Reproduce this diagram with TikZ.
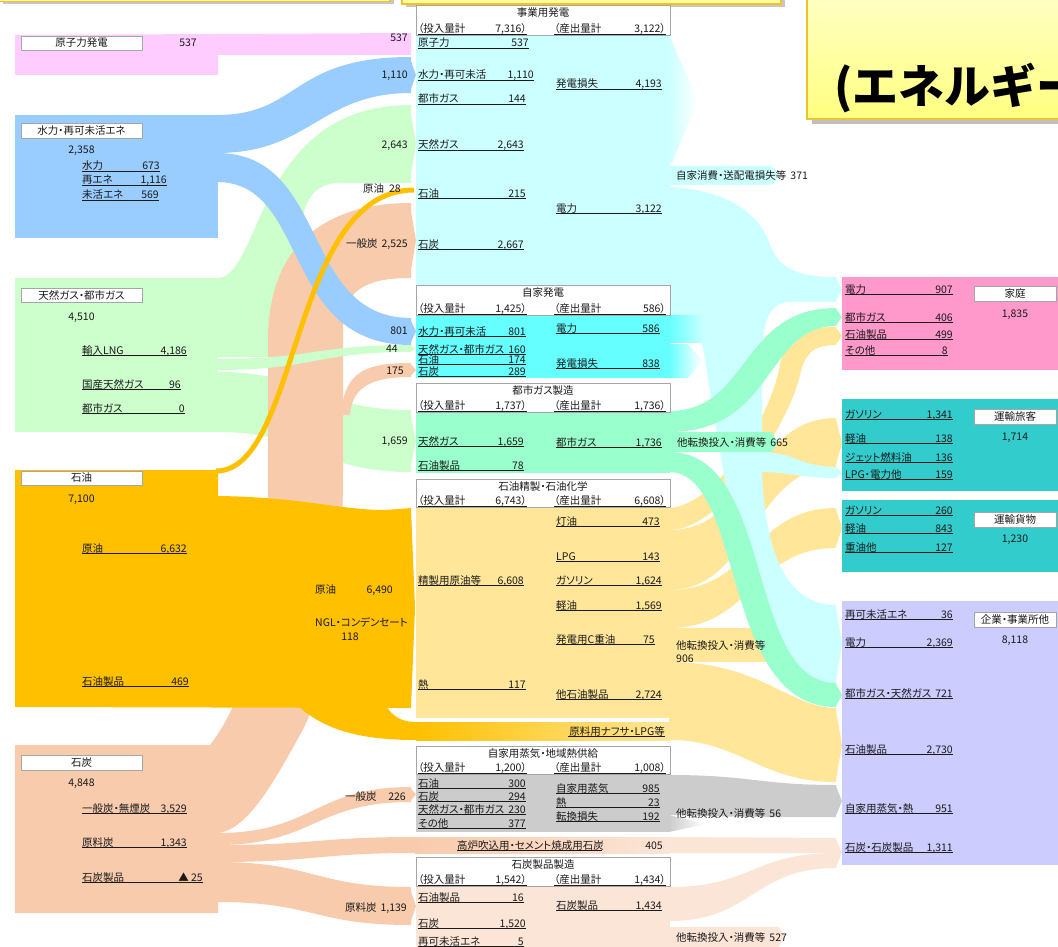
\documentclass[tikz,border=0pt]{standalone}
\usepackage{fontspec}
\setmainfont{Noto Sans CJK JP}[RawFeature=+palt]
\newfontfamily\titlefont{Noto Sans CJK JP}
\definecolor{cPink}{HTML}{FFCCFF}
\definecolor{cBlue}{HTML}{99CCFF}
\definecolor{cGreen}{HTML}{CCFFCC}
\definecolor{cOil}{HTML}{FFC000}
\definecolor{cCoal}{HTML}{F8CBAD}
\definecolor{cCyan}{HTML}{CCFFFF}
\definecolor{cAqua}{HTML}{66FFFF}
\definecolor{cMint}{HTML}{99FFCC}
\definecolor{cLOil}{HTML}{FFE699}
\definecolor{cGray}{HTML}{CCCCCC}
\definecolor{cPeach}{HTML}{FBE5D6}
\definecolor{cHome}{HTML}{FF99CC}
\definecolor{cTeal}{HTML}{33CCCC}
\definecolor{cBiz}{HTML}{CCCCFF}
\definecolor{cTxt}{HTML}{1A1A1A}
\definecolor{cBorder}{HTML}{A6A6A6}
\definecolor{cYel}{HTML}{FFFF99}
\definecolor{cYelL}{HTML}{FFFFCC}
\definecolor{cYelD}{HTML}{FFFF80}
\definecolor{cYelB}{HTML}{F2C12E}
\tikzset{
  txt/.style={inner sep=0pt, font=\fontsize{10.5}{12}\selectfont, text=cTxt},
  ul/.style={draw=cTxt, line width=0.8pt},
  lbox/.style={draw=cBorder, fill=white, line width=0.7pt},
  ybord/.style={draw=cYelB, line width=1.5pt},
}
\newcommand\band[7]{\fill[#1] (#2,#3) .. controls ({(#2+#5)/2},#3) and ({(#2+#5)/2},#6) .. (#5,#6) -- (#5,#7) .. controls ({(#2+#5)/2},#7) and ({(#2+#5)/2},#4) .. (#2,#4) -- cycle;}
\newcommand\tip[4]{\fill[#1] ({#2-0.5},#3) -- ({#2+6},{(#3+#4)/2}) -- ({#2-0.5},#4) -- cycle;}
\newcommand\itm[5]{\node[txt,anchor=base west] at (#1,{#3+4}) {#4};\node[txt,anchor=base east] at (#2,{#3+4}) {#5};\draw[ul] (#1,{#3+5.5}) -- (#2,{#3+5.5});}
\newcommand\tR[3]{\node[txt,anchor=base east] at (#1,{#2+4}) {#3};}
\newcommand\tL[3]{\node[txt,anchor=base west] at (#1,{#2+4}) {#3};}
\newcommand\tC[3]{\node[txt,anchor=base] at (#1,{#2+4}) {#3};}
\newcommand\hdr[5]{\draw[lbox] (416,#1) rectangle (670,#2);
  \node[txt,anchor=base] at (543,{#1+11.5}) {#3};
  \node[txt,anchor=base west] at (418,{#2-2.5}) {（投入量計};
  \node[txt,anchor=base east] at (527,{#2-2.5}) {#4）};
  \draw[ul] (418,{#2-1}) -- (527,{#2-1});
  \node[txt,anchor=base west] at (554,{#2-2.5}) {（産出量計};
  \node[txt,anchor=base east] at (666,{#2-2.5}) {#5）};
  \draw[ul] (554,{#2-1}) -- (666,{#2-1});}
\newcommand\dstbox[2]{\draw[lbox] (974,#1) rectangle (1056,{#1+15}); \node[txt] at (1015,{#1+7.5}) {#2};}
\begin{document}
\begin{tikzpicture}[x=1pt,y=-1pt]
\useasboundingbox (0,0) rectangle (1058,947);
\clip (0,0) rectangle (1058,947);

% ---------- top yellow boxes ----------
\fill[black!22] (3,-20) rectangle (394,4.5);
\draw[ybord,fill=cYel] (-5,-20) rectangle (390,1.5);
\fill[black!22] (406,-20) rectangle (785,7.5);
\draw[ybord,fill=cYel] (402,-20) rectangle (781,4);
\fill[black!25] (812,-20) rectangle (1070,124);
\shadedraw[top color=cYelL,bottom color=cYelD,draw=cYelB,line width=1.5pt] (807,-20) rectangle (1070,119);
\node[font=\titlefont\bfseries\fontsize{46}{50}\selectfont,anchor=base west,inner sep=0pt] (title) at (834,104) {(エネルギー};

% ---------- right side: oil product bands (behind) ----------
\fill[cLOil] (669,508) .. controls (715,506) and (770,420) .. (780,365) .. controls (785,335) and (800,327) .. (836,327) -- (836,345) .. controls (815,345) and (805,352) .. (800,375) .. controls (790,420) and (725,530) .. (669,530) -- cycle;
\tip{cLOil}{836}{327}{345}
\band{cLOil}{669}{530}{590}{836}{418}{467}
\tip{cLOil}{836}{418}{467}
\band{cLOil}{669}{590}{628}{836}{508}{548}
\tip{cLOil}{836}{508}{548}
\fill[cLOil] (669,628) rectangle (772,662);
\tip{cLOil}{772}{628}{662}
\fill[cLOil] (669,662) .. controls (760,662) and (790,708) .. (836,708) -- (836,782) .. controls (760,782) and (740,740) .. (669,740) -- cycle;
\tip{cLOil}{836}{708}{782}

% ---------- cyan electricity ----------
\fill[cCyan] (669,187) .. controls (730,190) and (760,215) .. (770,245) .. controls (780,270) and (800,277) .. (836,277) -- (836,302) -- (790,302) .. controls (770,302) and (762,320) .. (762,360) -- (762,470) .. controls (765,560) and (790,605) .. (836,605) -- (836,683) .. controls (785,683) and (748,640) .. (738,560) -- (708,380) .. controls (702,330) and (695,318) .. (669,318) -- cycle;
\tip{cCyan}{836}{277}{302}
\tip{cCyan}{836}{605}{683}
\fill[cCyan] (760,452) .. controls (795,452) and (800,467) .. (836,467) -- (836,478) .. controls (800,478) and (790,472) .. (760,472) -- cycle;
\tip{cCyan}{836}{467}{478}
\shade[left color=cCyan,right color=white] (669,35) -- (698,100) -- (672,163) -- (669,163) -- cycle;
\fill[cCyan,rounded corners=8pt] (660,166) rectangle (777,185);
\shade[left color=cAqua,right color=cCyan] (669,315) rectangle (704,342);
\shade[left color=cAqua,right color=white] (669,344) -- (688,344) -- (702,361) -- (688,378) -- (669,378) -- cycle;

% ---------- mint city gas ----------
\fill[cMint] (669,411) .. controls (750,411) and (740,308) .. (836,308) -- (836,326) .. controls (765,326) and (775,432) .. (669,432) -- cycle;
\tip{cMint}{836}{308}{326}
\fill[cMint] (669,432) rectangle (772,452);
\tip{cMint}{772}{432}{452}
\fill[cMint] (669,452) .. controls (775,452) and (745,683) .. (836,683) -- (836,707) .. controls (720,707) and (745,472) .. (669,472) -- cycle;
\tip{cMint}{836}{683}{707}

% ---------- gray steam, peach coal ----------
\fill[cGray] (669,775) .. controls (750,775) and (760,785) .. (836,785) -- (836,817) -- (760,817) .. controls (720,817) and (700,815) .. (669,815) -- cycle;
\tip{cGray}{836}{785}{817}
\shade[left color=cGray,right color=white] (669,815) -- (706,824) -- (669,832) -- cycle;
\band{cPeach}{669}{837}{853}{836}{838}{853}
\band{cPeach}{669}{887}{921}{836}{853}{868}
\tip{cPeach}{836}{838}{868}
\fill[cPeach] (669,927) rectangle (779,947);
\tip{cPeach}{779}{927}{947}

% ---------- left sources ----------
\fill[cPink] (15,35) -- (411,33) -- (411,55) -- (218,55) -- (218,75) -- (15,75) -- cycle;
\fill[cBlue] (15,115) rectangle (218,238);
\fill[cBlue] (217,115) .. controls (300,115) and (290,57) .. (411,57) -- (411,93) .. controls (320,93) and (310,153) .. (217,153) -- cycle;
\tip{cBlue}{410}{57}{93}
\fill[cGreen] (15,278) rectangle (218,432);
\fill[cGreen] (217,278) .. controls (262,278) and (255,105) .. (411,105) -- (411,183) -- (340,183) .. controls (305,183) and (300,215) .. (300,250) -- (300,357) -- (217,357) -- cycle;
\tip{cGreen}{410}{105}{183}
\band{cGreen}{217}{372}{432}{411}{410}{472}
\tip{cGreen}{410}{410}{472}
% coal main
\fill[cCoal] (15,745) -- (210,745) .. controls (245,700) and (268,620) .. (268,500) -- (268,340) .. controls (268,250) and (320,203) .. (411,203) -- (411,278) .. controls (365,278) and (343,290) .. (343,330) -- (343,470) .. controls (343,620) and (320,700) .. (300,735) .. controls (280,770) and (250,830) .. (218,833) -- (218,913) -- (15,913) -- cycle;
\tip{cCoal}{410}{203}{278}
\band{cGreen}{217}{359}{370}{411}{345}{352}
\tip{cGreen}{410}{345}{352}
\fill[cCoal] (343,400) .. controls (350,370) and (370,363) .. (411,363) -- (411,377) .. controls (375,377) and (352,385) .. (350,415) -- (343,415) -- cycle;
\tip{cCoal}{410}{363}{377}
\fill[cBlue] (217,153) .. controls (330,153) and (300,318) .. (411,318) -- (411,345) .. controls (280,345) and (310,182) .. (217,182) -- cycle;
\tip{cBlue}{410}{318}{345}
% oil
\fill[cOil] (15,470) -- (218,470) -- (218,496) .. controls (300,497) and (340,510) .. (385,510) -- (411,508) -- (415,608) -- (411,708) -- (15,707) -- cycle;
\fill[cOil] (298,706) .. controls (325,730) and (360,740) .. (416,740) -- (416,722) .. controls (400,722) and (392,715) .. (386,706) -- cycle;
\draw[cOil,line width=5pt] (216,471) .. controls (300,471) and (290,190) .. (414,190);
% coal branches
\band{cCoal}{217}{833}{845}{411}{787}{802}
\tip{cCoal}{410}{787}{802}
\band{cCoal}{217}{845}{862}{416}{837}{853}
\band{cCoal}{217}{862}{902}{411}{887}{925}
\tip{cCoal}{410}{887}{925}

% ---------- middle boxes ----------
\fill[cCyan] (416,35) rectangle (670,285);
\hdr{5}{35}{事業用発電}{7,316}{3,122}
\fill[cAqua] (416,315) rectangle (670,378);
\hdr{285}{315}{自家発電}{1,425}{586}
\fill[cMint] (416,412) rectangle (670,473);
\hdr{383}{412}{都市ガス製造}{1,737}{1,736}
\fill[cLOil] (416,507) rectangle (670,718);
\hdr{479}{507}{石油精製・石油化学}{6,743}{6,608}
\shade[left color=cOil,right color=cLOil] (416,722) rectangle (670,740);
\fill[cGray] (416,774) rectangle (670,832);
\hdr{746}{774}{自家用蒸気・地域熱供給}{1,200}{1,008}
\shade[left color=cCoal,right color=cPeach] (415,837) rectangle (670,853);
\fill[cPeach] (416,886) rectangle (670,947);
\hdr{857}{886}{石炭製品製造}{1,542}{1,434}

% ---------- right boxes ----------
\fill[cHome] (842,277) rectangle (1058,370);
\fill[cTeal] (842,399) rectangle (1058,491);
\fill[cTeal] (842,500) rectangle (1058,572);
\fill[cBiz] (842,601) rectangle (1058,865);
\dstbox{286}{家庭}
\tC{1015}{313}{1,835}
\dstbox{409}{運輸旅客}
\tC{1015}{436}{1,714}
\dstbox{512}{運輸貨物}
\tC{1015}{538}{1,230}
\dstbox{612}{企業・事業所他}
\tC{1015}{639}{8,118}

% ---------- left labels ----------
\draw[lbox] (21,36) rectangle (142,50); \node[txt] (nuc) at (81.5,43) {原子力発電};
\tC{188}{43}{537}
\draw[lbox] (21,123) rectangle (142,138); \node[txt] (hyd) at (81.5,130.5) {水力・再可未活エネ};
\tC{81.5}{150}{2,358}
\itm{82}{160}{166}{水力}{673}
\itm{82}{167}{180}{再エネ}{1,116}
\itm{82}{159}{195}{未活エネ}{569}
\draw[lbox] (21,288) rectangle (142,302); \node[txt] (gas) at (81.5,295) {天然ガス・都市ガス};
\tC{81.5}{316}{4,510}
\itm{82}{187}{350}{輸入LNG}{4,186}
\itm{82}{181}{384}{国産天然ガス}{96}
\itm{82}{185}{408}{都市ガス}{0}
\draw[lbox] (21,471) rectangle (142,485); \node[txt] (oil) at (81.5,478) {石油};
\tC{81.5}{498}{7,100}
\itm{82}{187}{548}{原油}{6,632}
\itm{82}{189}{681}{石油製品}{469}
\draw[lbox] (21,755) rectangle (142,770); \node[txt] (coal) at (81.5,762.5) {石炭};
\tC{81.5}{782}{4,848}
\itm{82}{187}{808}{一般炭・無煙炭}{3,529}
\itm{82}{187}{842}{原料炭}{1,343}
\itm{82}{203}{877}{石炭製品}{▲ 25}

% ---------- flow labels (left) ----------
\tR{408}{38}{537}
\tR{408}{75}{1,110}
\tR{408}{145}{2,643}
\tR{401}{189}{原油\hspace{5pt}28}
\tR{408}{243}{一般炭\hspace{4pt}2,525}
\tR{408}{330}{801}
\tR{398}{348}{44}
\tR{404}{370}{175}
\tR{408}{440}{1,659}
\tL{315}{589}{原油}
\tR{393}{589}{6,490}
\tL{315}{622}{NGL・コンデンセート}
\tC{350}{636}{118}
\tL{345}{796}{一般炭}
\tR{406}{796}{226}
\tL{345}{907}{原料炭}
\tR{407}{907}{1,139}

% ---------- middle items ----------
\itm{418}{529}{43}{原子力}{537}
\itm{418}{534}{75}{水力・再可未活}{1,110}
\itm{418}{526}{99}{都市ガス}{144}
\itm{418}{524}{145}{天然ガス}{2,643}
\itm{418}{526}{193}{石油}{215}
\itm{418}{524}{244}{石炭}{2,667}
\itm{556}{662}{84}{発電損失}{4,193}
\itm{556}{662}{208}{電力}{3,122}
\itm{418}{526}{331}{水力・再可未活}{801}
\itm{418}{526}{349}{天然ガス・都市ガス}{160}
\itm{418}{526}{359}{石油}{174}
\itm{418}{526}{371}{石炭}{289}
\itm{556}{660}{328}{電力}{586}
\itm{556}{660}{363}{発電損失}{838}
\itm{418}{524}{441}{天然ガス}{1,659}
\itm{418}{524}{465}{石油製品}{78}
\itm{556}{662}{442}{都市ガス}{1,736}
\itm{418}{524}{580}{精製用原油等}{6,608}
\itm{418}{526}{684}{熱}{117}
\itm{556}{660}{521}{灯油}{473}
\itm{556}{660}{556}{LPG}{143}
\itm{556}{662}{580}{ガソリン}{1,624}
\itm{556}{662}{605}{軽油}{1,569}
\itm{556}{655}{639}{発電用C重油}{75}
\itm{556}{662}{694}{他石油製品}{2,724}
\tR{665}{731}{原料用ナフサ・LPG等}
\draw[ul] (568,736.5) -- (665,736.5);
\itm{418}{526}{783}{石油}{300}
\itm{418}{526}{796}{石炭}{294}
\itm{418}{526}{809}{天然ガス・都市ガス}{230}
\itm{418}{526}{823}{その他}{377}
\itm{556}{660}{788}{自家用蒸気}{985}
\itm{556}{660}{802}{熱}{23}
\itm{556}{660}{816}{転換損失}{192}
\tL{457}{845}{高炉吹込用・セメント焼成用石炭}
\draw[ul] (457,850.5) -- (602,850.5);
\tR{663}{845}{405}
\itm{418}{524}{897}{石油製品}{16}
\itm{418}{526}{923}{石炭}{1,520}
\itm{418}{524}{941}{再可未活エネ}{5}
\itm{556}{662}{905}{石炭製品}{1,434}

% ---------- right flow labels ----------
\tL{676}{175}{自家消費・送配電損失等\hspace{4pt}371}
\tL{677}{442}{他転換投入・消費等\hspace{4pt}665}
\tL{676}{645}{他転換投入・消費等}
\tL{676}{658}{906}
\tL{676}{813}{他転換投入・消費等\hspace{4pt}56}
\tL{676}{937}{他転換投入・消費等\hspace{4pt}527}

% ---------- right items ----------
\itm{845}{953}{289}{電力}{907}
\itm{845}{953}{317}{都市ガス}{406}
\itm{845}{953}{334}{石油製品}{499}
\itm{845}{948}{350}{その他}{8}
\itm{845}{953}{414}{ガソリン}{1,341}
\itm{845}{953}{438}{軽油}{138}
\itm{845}{953}{457}{ジェット燃料油}{136}
\itm{845}{953}{474}{LPG・電力他}{159}
\itm{845}{953}{510}{ガソリン}{260}
\itm{845}{953}{528}{軽油}{843}
\itm{845}{953}{547}{重油他}{127}
\itm{845}{953}{614}{再可未活エネ}{36}
\itm{845}{953}{642}{電力}{2,369}
\itm{845}{953}{693}{都市ガス・天然ガス}{721}
\itm{845}{953}{749}{石油製品}{2,730}
\itm{845}{953}{808}{自家用蒸気・熱}{951}
\itm{845}{953}{847}{石炭・石炭製品}{1,311}
\end{tikzpicture}
\end{document}
